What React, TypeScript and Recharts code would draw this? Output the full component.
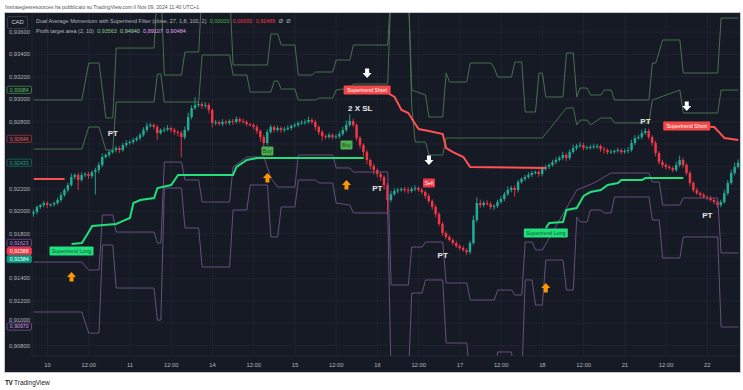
import {
  ComposedChart,
  Bar,
  Line,
  XAxis,
  YAxis,
  CartesianGrid,
  ReferenceDot,
  ReferenceLine,
} from "recharts";

// prices in 1e-5 units (92484 = 0,92484), one candle per hour
const firstOpen = 91980;
const closes = [
  91993, 92038, 92055, 92073, 92055, 92060, 92073, 92100, 92144, 92189,
  92234, 92305, 92323, 92279, 92323, 92332, 92314, 92350, 92368, 92413,
  92484, 92502, 92528, 92546, 92564, 92546, 92591, 92609, 92618, 92636,
  92653, 92680, 92725, 92761, 92770, 92752, 92698, 92725, 92730, 92743,
  92725, 92707, 92698, 92662, 92725, 92841, 92921, 92948, 92957, 92939,
  92948, 92904, 92788, 92795, 92779, 92797, 92788, 92805, 92797, 92823,
  92805, 92797, 92779, 92770, 92752, 92716, 92662, 92609, 92707, 92752,
  92725, 92743, 92725, 92734, 92743, 92761, 92770, 92788, 92792, 92797,
  92814, 92797, 92752, 92707, 92671, 92662, 92680, 92662, 92668, 92689,
  92725, 92770, 92805, 92770, 92653, 92591, 92528, 92457, 92404, 92368,
  92332, 92305, 92234, 92100, 92152, 92180, 92189, 92198, 92189, 92180,
  92198, 92207, 92189, 92171, 92136, 92091, 92038, 91975, 91886, 91805,
  91770, 91743, 91716, 91689, 91671, 91653, 91636, 91716, 91921, 92073,
  92055, 92073, 92064, 92038, 92047, 92082, 92109, 92152, 92189, 92207,
  92189, 92261, 92288, 92305, 92323, 92341, 92350, 92332, 92377, 92395,
  92413, 92439, 92457, 92475, 92502, 92475, 92528, 92564, 92582, 92591,
  92564, 92570, 92573, 92578, 92582, 92555, 92546, 92528, 92532, 92537,
  92546, 92528, 92537, 92546, 92609, 92653, 92662, 92698, 92716, 92662,
  92609, 92520, 92439, 92413, 92395, 92386, 92368, 92413, 92457, 92413,
  92341, 92252, 92189, 92161, 92144, 92127, 92118, 92100, 92082, 92055,
  92082, 92161, 92252, 92341, 92395, 92433,
];
const wickUp = [
  20, 15, 10, 20, 15, 10, 15, 20, 25, 15, 20, 30, 15, 20, 25, 15, 20, 15, 20, 25,
  30, 15, 20, 15, 20, 15, 20, 25, 15, 20, 15, 20, 25, 30, 20, 15, 20, 15, 20, 25,
  15, 20, 15, 20, 30, 40, 25, 70, 30, 20, 25, 20, 15, 20, 15, 25, 20, 15, 20, 25,
  15, 20, 15, 10, 15, 20, 15, 20, 25, 20, 15, 20, 15, 20, 25, 15, 20, 15, 20, 25,
  30, 15, 20, 15, 20, 15, 20, 15, 20, 25, 30, 40, 60, 20, 15, 20, 15, 20, 15, 20,
  15, 20, 15, 20, 30, 25, 20, 15, 20, 25, 20, 25, 15, 20, 15, 20, 15, 20, 15, 20,
  15, 20, 15, 20, 15, 20, 15, 20, 40, 50, 30, 20, 25, 20, 15, 20, 25, 20, 30, 20,
  25, 20, 15, 20, 25, 20, 15, 20, 25, 20, 15, 20, 25, 20, 30, 20, 25, 30, 20, 25,
  20, 15, 20, 25, 20, 15, 20, 15, 20, 15, 20, 15, 20, 25, 30, 25, 20, 30, 25, 20,
  15, 20, 15, 20, 15, 20, 15, 30, 40, 20, 15, 20, 15, 20, 15, 20, 15, 20, 15, 20,
  20, 30, 25, 30, 40, 30,
];
const wickDn = [
  30, 20, 15, 20, 25, 15, 20, 15, 20, 15, 20, 15, 20, 90, 15, 20, 25, 20, 200, 30,
  20, 15, 20, 15, 20, 25, 15, 20, 15, 20, 15, 20, 15, 20, 15, 20, 60, 15, 20, 15,
  20, 25, 30, 180, 20, 15, 20, 15, 20, 25, 20, 30, 40, 20, 15, 20, 15, 20, 25, 15,
  20, 15, 20, 15, 20, 25, 40, 60, 20, 15, 20, 15, 25, 20, 15, 20, 15, 20, 15, 20,
  15, 20, 30, 25, 40, 20, 15, 20, 15, 20, 15, 20, 15, 20, 25, 30, 40, 35, 30, 40,
  30, 35, 40, 130, 20, 15, 20, 15, 20, 25, 15, 20, 15, 20, 25, 20, 25, 30, 20, 25,
  20, 15, 20, 15, 20, 15, 25, 20, 15, 20, 25, 20, 15, 20, 25, 20, 15, 20, 15, 20,
  60, 20, 15, 20, 15, 20, 15, 25, 20, 15, 20, 15, 20, 15, 20, 30, 20, 15, 20, 15,
  20, 15, 20, 15, 20, 25, 30, 20, 15, 20, 15, 20, 15, 20, 15, 20, 15, 20, 15, 20,
  25, 30, 20, 25, 20, 15, 20, 15, 20, 25, 20, 25, 20, 15, 20, 15, 20, 15, 20, 25,
  20, 15, 20, 15, 20, 15,
];

// profit target area bands: [candle index, price], 94000 / 90500 = off the pane
const upperOuter = [
  [0, 92993], [14, 92993], [16, 93323], [19, 93323], [21, 92832], [23, 92832], [24, 93457],
  [35, 93457], [36, 94000], [37, 94000], [38, 93216], [43, 93216], [44, 93422], [48, 93422],
  [49, 94000], [57, 94000], [58, 93306], [68, 93306], [69, 93582], [71, 93582], [72, 93484],
  [76, 93484], [77, 93216], [81, 93216], [82, 93243], [87, 93243], [88, 93350], [92, 93350],
  [93, 93484], [103, 93484], [104, 94000], [109, 94000], [110, 93082], [114, 93038],
  [115, 92841], [119, 92841], [120, 93234], [121, 93154], [126, 93154], [127, 93323],
  [133, 93323], [134, 93279], [135, 93198], [139, 93198], [140, 93332], [142, 93332],
  [143, 92886], [146, 92886], [147, 93234], [148, 93234], [149, 93020], [154, 93020],
  [155, 93413], [157, 93413], [158, 93020], [159, 93100], [161, 93100], [162, 93038],
  [165, 93038], [166, 93082], [168, 93082], [169, 92993], [179, 92993], [180, 93323],
  [181, 93323], [183, 93529], [188, 93529], [189, 93234], [199, 93234], [200, 93725],
  [205, 93725],
];
const upperInner = [
  [0, 92555], [14, 92555], [16, 92752], [19, 92752], [21, 92546], [23, 92546], [24, 92975],
  [35, 92975], [36, 93225], [37, 93225], [38, 92975], [48, 92975], [49, 93395], [57, 93395],
  [58, 93216], [62, 93216], [63, 93064], [69, 93064], [70, 93163], [71, 93163], [72, 93091],
  [76, 93091], [77, 92993], [82, 92993], [83, 93011], [87, 93011], [88, 93082], [92, 93100],
  [93, 93136], [103, 93136], [104, 94000], [109, 94000], [110, 92931], [111, 92618],
  [114, 92618], [115, 92502], [119, 92502], [120, 92654], [148, 92654], [155, 92922],
  [157, 92922], [158, 92770], [159, 92814], [161, 92814], [162, 92770], [165, 92832],
  [168, 92832], [169, 92788], [179, 92788], [180, 92993], [188, 93082], [189, 92877],
  [199, 92877], [200, 93082], [205, 93082],
];
const lowerInner = [
  [0, 91546], [14, 91546], [16, 91475], [19, 91475], [20, 91966], [23, 91966], [24, 91814],
  [35, 91814], [36, 91716], [37, 91716], [38, 92439], [43, 92439], [44, 92279], [48, 92279],
  [49, 92082], [57, 92082], [58, 92395], [62, 92484], [67, 92484], [69, 92296], [71, 92216],
  [76, 92216], [77, 92502], [87, 92502], [88, 92386], [92, 92386], [93, 92350], [103, 92350],
  [104, 91341], [109, 91341], [110, 91680], [113, 91680], [114, 91725], [119, 91725],
  [120, 91359], [126, 91359], [127, 91207], [134, 91207], [135, 91296], [139, 91296],
  [140, 91252], [142, 91252], [143, 91725], [145, 91725], [146, 91654], [148, 91654],
  [158, 92189], [163, 92252], [168, 92341], [179, 92341], [180, 92261], [182, 92261],
  [183, 92055], [188, 92055], [189, 92118], [199, 92118], [200, 91627], [205, 91627],
];
const lowerOuter = [
  [0, 91100], [14, 91100], [16, 90912], [19, 90912], [20, 91698], [23, 91698], [24, 91314],
  [35, 91314], [36, 91028], [37, 91028], [38, 92207], [43, 92207], [44, 91850], [48, 91850],
  [49, 91502], [57, 91502], [58, 92011], [62, 92011], [63, 92234], [68, 92234], [69, 91770],
  [71, 91770], [72, 92038], [76, 92038], [77, 92279], [82, 92279], [83, 92252], [87, 92252],
  [88, 92073], [92, 92055], [93, 91984], [103, 91984], [104, 90500], [109, 90500],
  [110, 91270], [113, 91270], [114, 91386], [119, 91386], [120, 90823], [126, 90823],
  [127, 90500], [134, 90500], [135, 90743], [139, 90743], [140, 90500], [142, 90500],
  [143, 91386], [145, 91386], [146, 91162], [148, 91162], [149, 91564], [154, 91564],
  [155, 91296], [157, 91296], [158, 91948], [159, 91904], [161, 91904], [162, 92011],
  [165, 92011], [166, 91984], [168, 91984], [169, 92127], [179, 92127], [180, 91921],
  [182, 91921], [183, 91582], [188, 91582], [189, 91770], [199, 91770], [200, 90966],
  [205, 90966],
];

// supertrend segments
const stShort1 = [[0, 92288], [9, 92288]];
const stLong1 = [
  [11, 91707], [14, 91716], [16, 91814], [17, 91868], [24, 91886], [26, 91913], [28, 91940],
  [29, 92073], [31, 92100], [35, 92118], [36, 92207], [40, 92234], [42, 92323], [58, 92323],
  [59, 92395], [62, 92457], [65, 92475], [96, 92475],
];
const stShort2 = [
  [100, 93082], [103, 93056], [105, 93020], [107, 92904], [109, 92877], [111, 92779],
  [112, 92734], [115, 92716], [119, 92689], [120, 92564], [122, 92528], [125, 92484],
  [127, 92395], [149, 92386],
];
const stLong2 = [
  [149, 91850], [150, 91895], [154, 91904], [155, 92011], [158, 92028], [160, 92136],
  [162, 92171], [165, 92189], [167, 92234], [170, 92252], [171, 92279], [177, 92279],
  [178, 92296], [189, 92296],
];
const stShort3 = [[190, 92761], [198, 92752], [201, 92653], [205, 92636]];

// signals
const upArrows = [[11, 91412], [68, 92296], [91, 92234], [149, 91314]];
const downArrows = [[97, 93234], [115, 92457], [190, 92939]];
const ptMarks = [[23, 92698], [100, 92207], [119, 91609], [178, 92806], [196, 91966]];
const slMarks = [[95, 92922]];
const buyMarks = [[68, 92537], [91, 92591]];
const sellMarks = [[115, 92252]];
const longMarks = [[11, 91645], [149, 91805]];
const shortMarks = [[97, 93082], [190, 92761]];

const timeTicks = [4, 16, 28, 40, 52, 64, 76, 88, 100, 112, 124, 136, 148, 160, 172, 184, 196];
const timeLabels = ["10", "12:00", "11", "12:00", "14", "12:00", "15", "12:00", "16", "12:00", "17", "12:00", "18", "12:00", "21", "12:00", "22"];
const priceTicks = [0.908, 0.91, 0.912, 0.914, 0.916, 0.918, 0.92, 0.922, 0.924, 0.926, 0.928, 0.93, 0.932, 0.934, 0.936];
// price labels that sit fully behind a last-value badge
const coveredTicks = [0.916, 0.924, 0.926];
const badgeValues = [0.93084, 0.92646, 0.92433, 0.91623, 0.91588, 0.91584, 0.9097];

const badgeLook = [
  { fill: "#161a25", stroke: "#3f8f45", text: "#5fbf63", dy: 0 },
  { fill: "#161a25", stroke: "#a3343b", text: "#f0575d", dy: 0 },
  { fill: "#161a25", stroke: "#11705f", text: "#1fa58c", dy: 0 },
  { fill: "#161a25", stroke: "#7d4796", text: "#cf86e0", dy: -10.5 },
  { fill: "#f23645", stroke: "#f23645", text: "#ffffff", dy: -6.3 },
  { fill: "#089981", stroke: "#089981", text: "#ffffff", dy: 1.2 },
  { fill: "#161a25", stroke: "#7d5496", text: "#d5a6e8", dy: 0 },
];

const BG = "#161a25";
const UP = "#22ab94";
const DOWN = "#f23645";
const FONT = '"Liberation Sans", Arial, sans-serif';

const pt = (v: number) => v / 100000;
const fmt = (v: number) => v.toFixed(5).replace(".", ",");

const lineSets: Record<string, number[][]> = {
  u2: upperOuter,
  u1: upperInner,
  l1: lowerInner,
  l2: lowerOuter,
  r1: stShort1,
  g1: stLong1,
  r2: stShort2,
  g2: stLong2,
  r3: stShort3,
};

const rows = closes.map((c, i) => {
  const open = i === 0 ? firstOpen : closes[i - 1];
  const high = Math.max(open, c) + wickUp[i];
  const low = Math.min(open, c) - wickDn[i];
  const row: any = { i, open: pt(open), close: pt(c), high: pt(high), low: pt(low) };
  row.range = [row.low, row.high];
  for (const key of Object.keys(lineSets)) {
    const hit = lineSets[key].find((p) => p[0] === i);
    row[key] = hit ? pt(hit[1]) : null;
  }
  return row;
});

function Candle(props: any) {
  const { x, y, width, height, payload } = props;
  const { open, close, high, low } = payload;
  const top = Math.min(y, y + height);
  const h = Math.abs(height);
  if (!h || high === low) return null;
  const k = h / (high - low);
  const py = (v: number) => top + (high - v) * k;
  const cx = x + width / 2;
  const col = close >= open ? UP : DOWN;
  const bTop = py(Math.max(open, close));
  const bh = Math.max(1, py(Math.min(open, close)) - bTop);
  return (
    <g>
      <line x1={cx} x2={cx} y1={top} y2={top + h} stroke={col} strokeWidth={0.9} />
      <rect x={cx - 1.25} y={bTop} width={2.5} height={bh} fill={col} />
    </g>
  );
}

const UpArrow = ({ cx, cy }: any) => (
  <polygon
    points={`${cx},${cy - 5} ${cx + 4.5},${cy} ${cx + 2},${cy} ${cx + 2},${cy + 4.5} ${cx - 2},${cy + 4.5} ${cx - 2},${cy} ${cx - 4.5},${cy}`}
    fill="#ff9800"
  />
);
const DownArrow = ({ cx, cy }: any) => (
  <polygon
    points={`${cx},${cy + 5} ${cx + 4.5},${cy} ${cx + 2},${cy} ${cx + 2},${cy - 4.5} ${cx - 2},${cy - 4.5} ${cx - 2},${cy} ${cx - 4.5},${cy}`}
    fill="#ffffff"
  />
);
const TextMark = (txt: string) => ({ cx, cy }: any) => (
  <text x={cx} y={cy + 3} textAnchor="middle" fontSize={8} fontWeight={700} fill="#e8e8ea" fontFamily={FONT}>
    {txt}
  </text>
);
const Tag = (txt: string, w: number, fill: string, color: string) => ({ cx, cy }: any) => (
  <g>
    <rect x={cx - w / 2} y={cy - 4.5} width={w} height={9} rx={1} fill={fill} />
    <text x={cx} y={cy + 2} textAnchor="middle" fontSize={5.3} fill={color} fontFamily={FONT}>
      {txt}
    </text>
  </g>
);

const YTick = ({ y, payload }: any) => {
  if (coveredTicks.includes(payload.value)) return null;
  // 0,91000 sits just above the 0,90970 badge
  const nudge = payload.value === 0.91 ? -3 : 0;
  return (
    <text x={4} y={y + 2 + nudge} fontSize={5.8} fill="#b2b5be" fontFamily={FONT}>
      {fmt(payload.value)}
    </text>
  );
};
const XTick = ({ x, payload }: any) => (
  <text x={x} y={354} textAnchor="middle" fontSize={5.8} fill="#b2b5be" fontFamily={FONT}>
    {timeLabels[timeTicks.indexOf(payload.value)]}
  </text>
);

const Badge = (idx: number) => (props: any) => {
  const look = badgeLook[idx];
  const y = props.viewBox.y + look.dy;
  return (
    <g>
      <rect x={2} y={y - 3.6} width={24.5} height={7.2} rx={1.5} fill={look.fill} stroke={look.stroke} strokeWidth={0.8} />
      <text x={14.25} y={y + 1.9} textAnchor="middle" fontSize={5.2} fill={look.text} fontFamily={FONT}>
        {fmt(badgeValues[idx])}
      </text>
    </g>
  );
};

const bandLines = [
  { key: "u2", color: "#47704e" },
  { key: "u1", color: "#47704e" },
  { key: "l1", color: "#664f7d" },
  { key: "l2", color: "#664f7d" },
];
const trendLines = [
  { key: "r1", color: "#ff5252" },
  { key: "g1", color: "#1fe07c" },
  { key: "r2", color: "#ff5252" },
  { key: "g2", color: "#1fe07c" },
  { key: "r3", color: "#ff5252" },
];

const tiny = (s: number) => ({ fontSize: 10, transform: `scale(${s})`, transformOrigin: "left top", whiteSpace: "nowrap" as const });
const val = (color: string) => ({ color, marginLeft: 6 });

export default function App() {
  return (
    <div style={{ position: "absolute", left: 0, top: 0, width: 743, height: 390, background: "#ffffff", overflow: "hidden", fontFamily: FONT }}>
      <div style={{ position: "absolute", left: 5, top: 4, color: "#50535e", ...tiny(0.51) }}>
        fxstrategiesresources ha pubblicato su TradingView.com il Nov 09, 2024 11:40 UTC+1
      </div>
      <div style={{ position: "absolute", left: 5, top: 13, width: 735, height: 359, background: BG, outline: "1px solid #c3c6ce" }}>
        <ComposedChart width={735} height={359} data={rows} margin={{ top: 0, right: 0, bottom: 0, left: 0 }} barCategoryGap={0} barGap={0}>
          <CartesianGrid stroke="#1f2431" strokeWidth={1} />
          <XAxis dataKey="i" type="category" ticks={timeTicks} interval={0} height={16} axisLine={false} tickLine={false} tick={<XTick />} />
          <YAxis
            type="number"
            domain={[0.90707, 0.9377]}
            allowDataOverflow
            ticks={priceTicks}
            interval={0}
            width={27}
            axisLine={false}
            tickLine={false}
            tick={<YTick />}
          />
          {bandLines.map((l) => (
            <Line key={l.key} dataKey={l.key} type="linear" stroke={l.color} strokeWidth={1} dot={false} connectNulls isAnimationActive={false} />
          ))}
          <Bar dataKey="range" shape={<Candle />} isAnimationActive={false} />
          {trendLines.map((l) => (
            <Line key={l.key} dataKey={l.key} type="linear" stroke={l.color} strokeWidth={2} dot={false} connectNulls isAnimationActive={false} />
          ))}
          {upArrows.map(([i, v], k) => (
            <ReferenceDot key={"ua" + k} x={i} y={pt(v)} shape={UpArrow} />
          ))}
          {downArrows.map(([i, v], k) => (
            <ReferenceDot key={"da" + k} x={i} y={pt(v)} shape={DownArrow} />
          ))}
          {ptMarks.map(([i, v], k) => (
            <ReferenceDot key={"pt" + k} x={i} y={pt(v)} shape={TextMark("PT")} />
          ))}
          {slMarks.map(([i, v], k) => (
            <ReferenceDot key={"sl" + k} x={i} y={pt(v)} shape={TextMark("2 X SL")} />
          ))}
          {buyMarks.map(([i, v], k) => (
            <ReferenceDot key={"b" + k} x={i} y={pt(v)} shape={Tag("Buy", 12, "#4caf50", "#1f4d22")} />
          ))}
          {sellMarks.map(([i, v], k) => (
            <ReferenceDot key={"s" + k} x={i} y={pt(v)} shape={Tag("Sell", 12, "#f23645", "#ffffff")} />
          ))}
          {longMarks.map(([i, v], k) => (
            <ReferenceDot key={"lg" + k} x={i} y={pt(v)} shape={Tag("Supertrend Long", 44, "#22e07e", "#0d5a2c")} />
          ))}
          {shortMarks.map(([i, v], k) => (
            <ReferenceDot key={"sh" + k} x={i} y={pt(v)} shape={Tag("Supertrend Short", 47, "#f44848", "#ffffff")} />
          ))}
          {badgeValues.map((v, k) => (
            <ReferenceLine key={"bg" + k} y={v} stroke="none" label={Badge(k)} />
          ))}
        </ComposedChart>
        <div style={{ position: "absolute", left: 2, top: 3, width: 19, height: 11, border: "1px solid #363a45", borderRadius: 2, background: BG, color: "#d1d4dc", fontSize: 5.8, lineHeight: "11px", textAlign: "center" }}>
          CAD
        </div>
        <div style={{ position: "absolute", left: 31, top: 2.5, color: "#b2b5be", lineHeight: "18.5px", ...tiny(0.545) }}>
          <div>
            Dual Average Momentum with Supertrend Filter (close, 27, 1,8, 100, 2)
            <span style={val("#4caf50")}>0,00000</span>
            <span style={val("#f23645")}>0,00000</span>
            <span style={val("#f23645")}>0,92486</span>
            <span style={val("#b2b5be")}>Ø</span>
            <span style={val("#b2b5be")}>Ø</span>
          </div>
          <div>
            Profit target area (2, 10)
            <span style={val("#81c784")}>0,93563</span>
            <span style={val("#a5d6a7")}>0,94940</span>
            <span style={val("#e1a3f0")}>0,89107</span>
            <span style={val("#e1a3f0")}>0,90484</span>
          </div>
        </div>
      </div>
      <div style={{ position: "absolute", left: 5, top: 379, fontSize: 6.5, color: "#131722", whiteSpace: "nowrap" }}>
        <span style={{ fontWeight: 900, letterSpacing: -0.5 }}>TV</span> TradingView
      </div>
    </div>
  );
}
